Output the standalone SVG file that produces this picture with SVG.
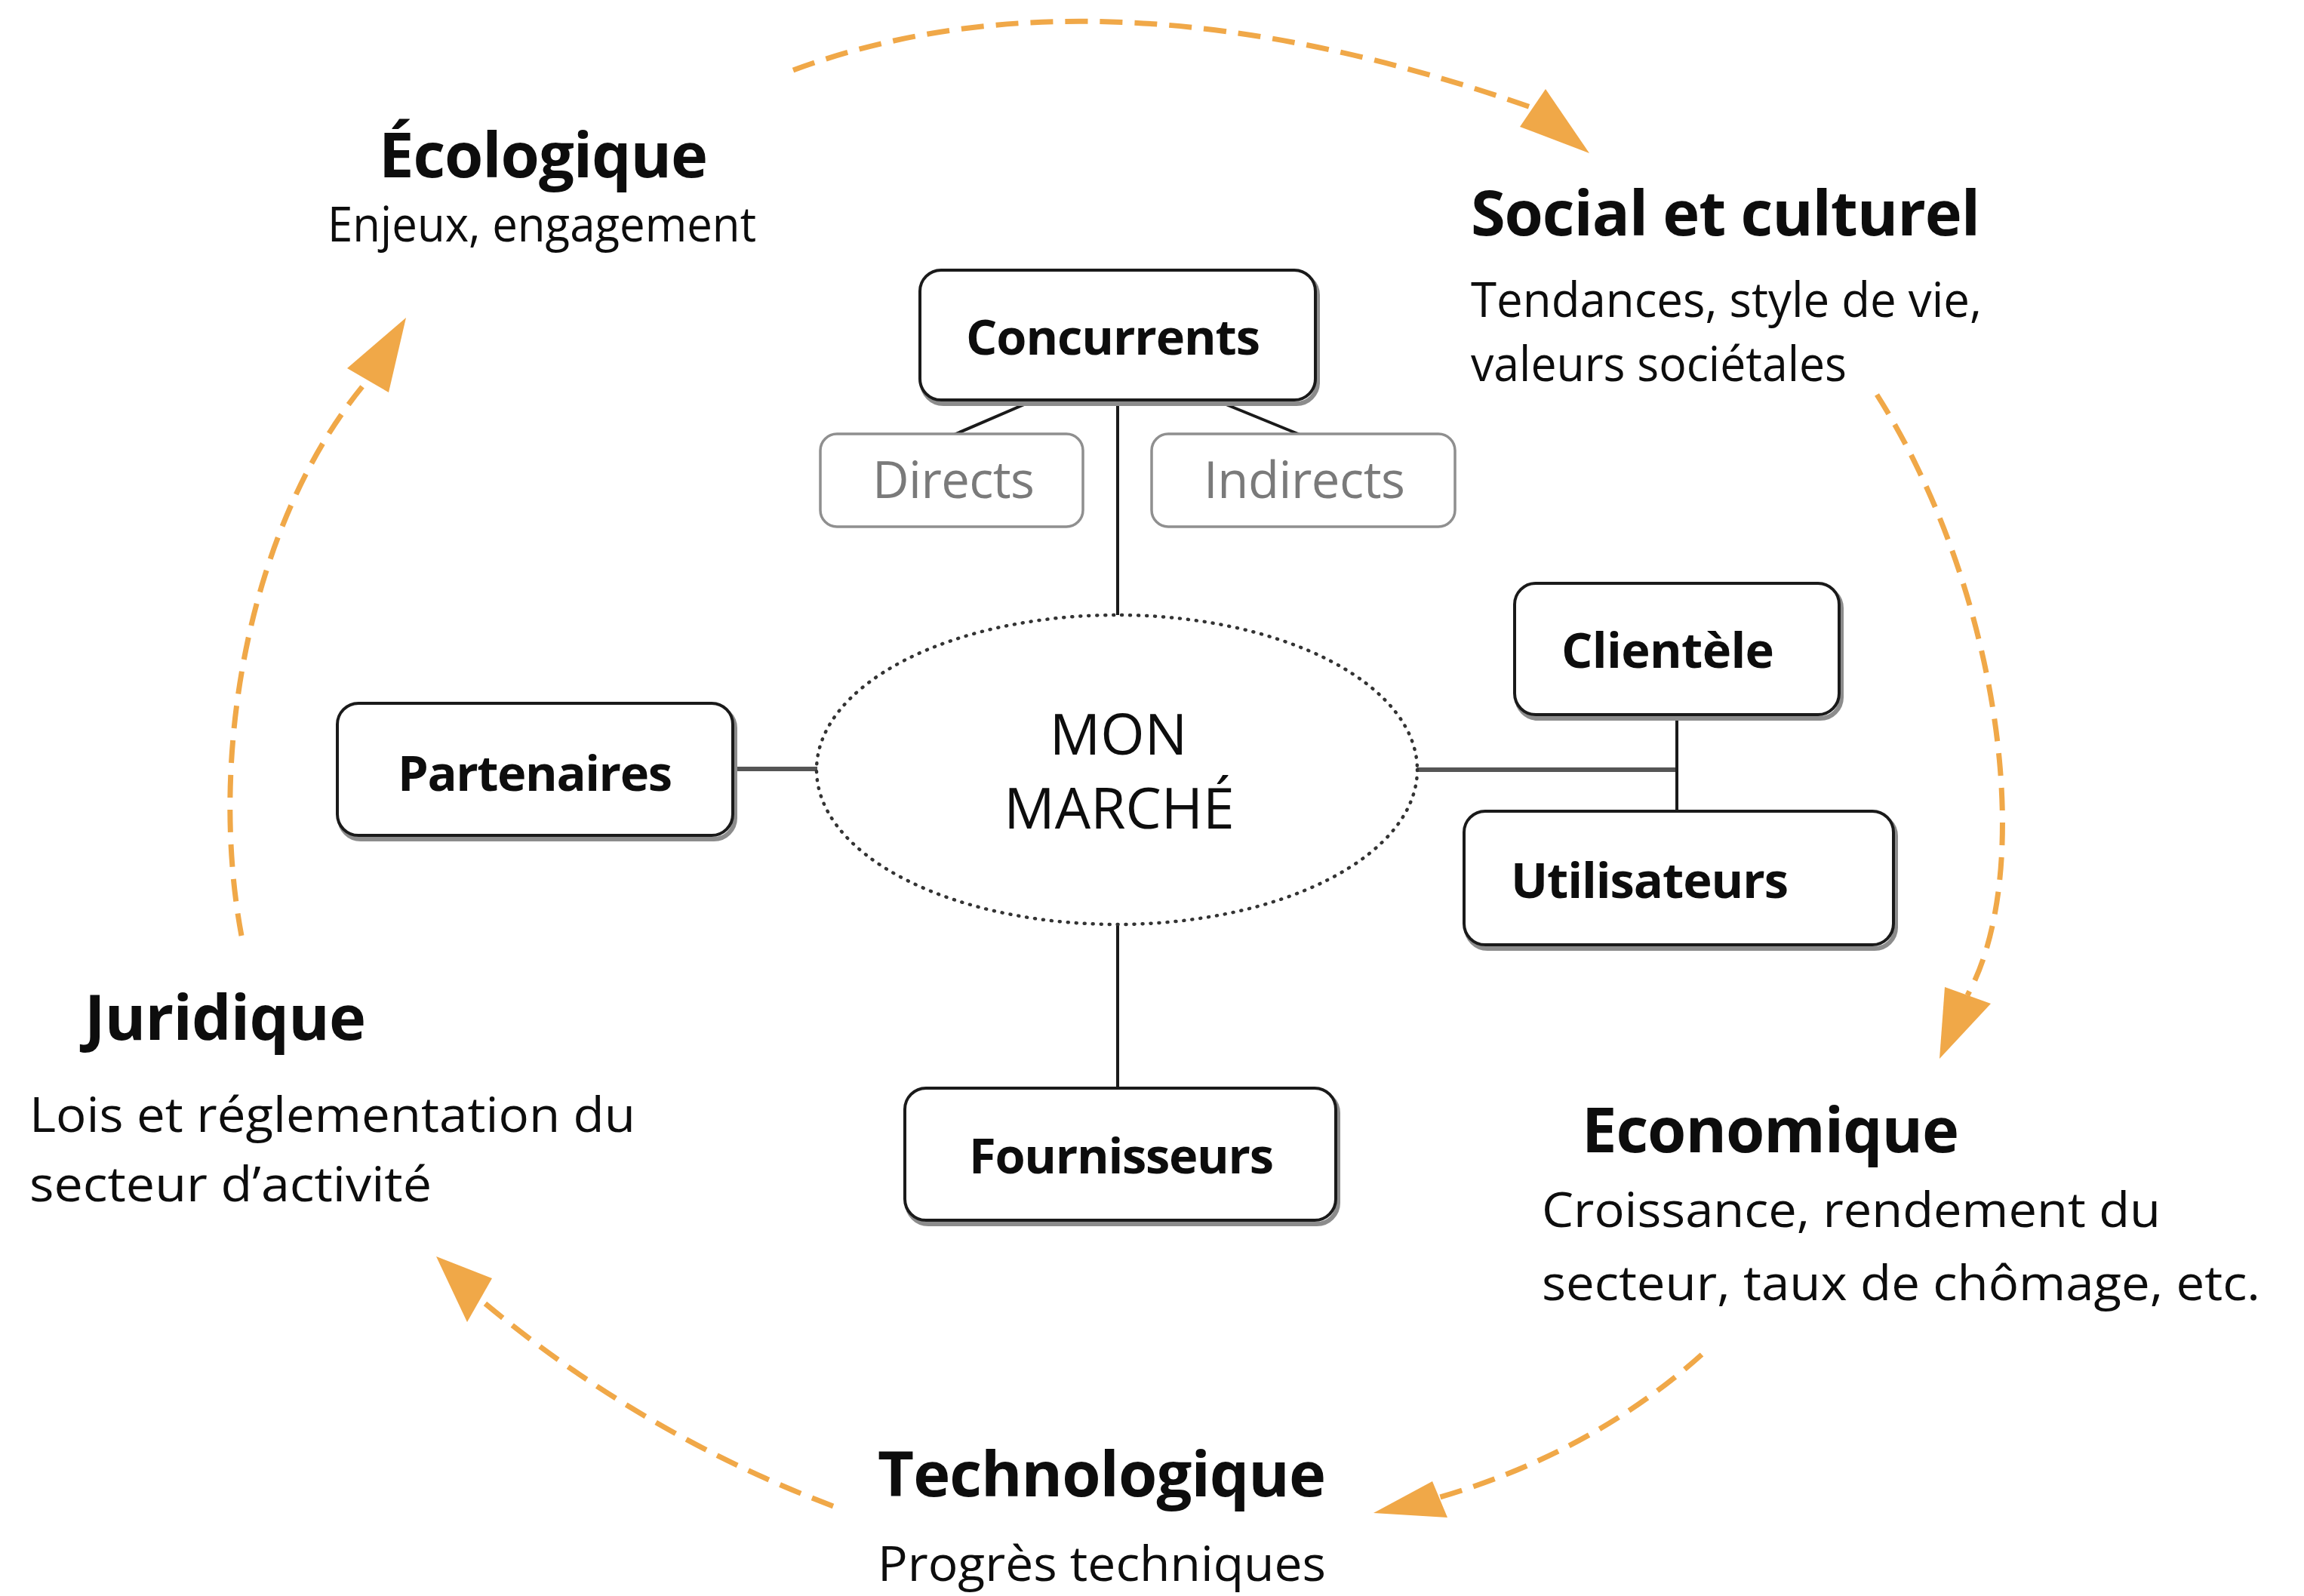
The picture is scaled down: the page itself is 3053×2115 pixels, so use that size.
<svg xmlns="http://www.w3.org/2000/svg" width="3053" height="2115" viewBox="0 0 3053 2115">
<style>
.bg{fill:#ffffff}
.title{font-family:"Open Sans","Noto Sans",sans-serif;font-weight:700;font-size:83px;fill:#0d0d0d}
.sub{font-family:"Open Sans","Noto Sans",sans-serif;font-weight:400;font-size:64px;fill:#0d0d0d}
.lbl{font-family:"Open Sans","Noto Sans",sans-serif;font-weight:700;font-size:65px;fill:#0d0d0d}
.sublbl{font-family:"Open Sans","Noto Sans",sans-serif;font-weight:400;font-size:67px;fill:#7a7a7a}
.core{font-family:"Open Sans","Noto Sans",sans-serif;font-weight:400;font-size:75px;fill:#0d0d0d}
.box{fill:#ffffff;stroke:#1a1a1a;stroke-width:4}
.shadow{fill:none;stroke:#8c8c8c;stroke-width:6}
.gbox{fill:#ffffff;stroke:#8f8f8f;stroke-width:3.5}
.link{stroke:#1a1a1a;stroke-width:4;fill:none}
.glink{stroke:#555555;stroke-width:6;fill:none}
.arc{stroke:#F0A848;stroke-width:7;fill:none;stroke-dasharray:30 16}
.head{fill:#F0A848}
.dot{fill:none;stroke:#333333;stroke-width:4.5;stroke-dasharray:1 10;stroke-linecap:round}
</style>
<rect class="bg" x="0" y="0" width="3053" height="2115"/>

<g id="connectors">
  <path class="arc" d="M1051,93 Q1459,-58 2031,143"/>
  <polygon class="head" points="2048,118 2014,168 2106,203"/>
  <path class="arc" d="M2487,523 C2650,780 2700,1150 2607,1319"/>
  <polygon class="head" points="2577,1308 2638,1330 2570,1403"/>
  <path class="arc" d="M2255,1795 Q2110,1925 1905,1985"/>
  <polygon class="head" points="1898,1963 1918,2011 1820,2005"/>
  <path class="arc" d="M1104,1996 Q850,1900 640,1725"/>
  <polygon class="head" points="652,1694 619,1752 578,1665"/>
  <path class="arc" d="M320,1240 C275,1000 330,690 487,504"/>
  <polygon class="head" points="460,488 515,520 538,421"/>

  <line class="link" x1="1371" y1="530" x2="1262" y2="577"/>
  <line class="link" x1="1610" y1="530" x2="1725" y2="577"/>
  <line class="link" x1="1481" y1="530" x2="1481" y2="815"/>
  <line class="link" x1="1481" y1="1225" x2="1481" y2="1442"/>
  <line class="glink" x1="971" y1="1019" x2="1083" y2="1019"/>
  <line class="glink" x1="1878" y1="1020" x2="2222" y2="1020"/>
  <line class="link" x1="2222" y1="947" x2="2222" y2="1075"/>
</g>

<g id="ecologique">
  <text class="title" x="502" y="235" textLength="436">Écologique</text>
  <text class="sub" x="434" y="320" textLength="568" lengthAdjust="spacingAndGlyphs">Enjeux, engagement</text>
</g>
<g id="social">
  <text class="title" x="1949" y="312" textLength="675">Social et culturel</text>
  <text class="sub" x="1949" y="420" textLength="677" lengthAdjust="spacingAndGlyphs">Tendances, style de vie,</text>
  <text class="sub" x="1949" y="505" textLength="498" lengthAdjust="spacingAndGlyphs">valeurs sociétales</text>
</g>
<g id="juridique">
  <text class="title" x="112" y="1378" textLength="373">Juridique</text>
  <text class="sub" x="39" y="1500" textLength="803" lengthAdjust="spacingAndGlyphs">Lois et réglementation du</text>
  <text class="sub" x="39" y="1592" textLength="533" lengthAdjust="spacingAndGlyphs">secteur d’activité</text>
</g>
<g id="economique">
  <text class="title" x="2096" y="1527" textLength="500">Economique</text>
  <text class="sub" x="2043" y="1626" textLength="820" lengthAdjust="spacingAndGlyphs">Croissance, rendement du</text>
  <text class="sub" x="2043" y="1723" textLength="952" lengthAdjust="spacingAndGlyphs">secteur, taux de chômage, etc.</text>
</g>
<g id="technologique">
  <text class="title" x="1163" y="1983" textLength="594">Technologique</text>
  <text class="sub" x="1163" y="2095" textLength="594" lengthAdjust="spacingAndGlyphs">Progrès techniques</text>
</g>

<g id="concurrents">
  <rect class="shadow" x="1222" y="363" width="524" height="172" rx="28"/>
  <rect class="box" x="1219" y="358" width="524" height="172" rx="28"/>
  <text class="lbl" x="1280" y="470" textLength="390">Concurrents</text>
</g>
<g id="directs">
  <rect class="gbox" x="1087" y="575" width="348" height="123" rx="22"/>
  <text class="sublbl" x="1156" y="660" textLength="215">Directs</text>
</g>
<g id="indirects">
  <rect class="gbox" x="1526" y="575" width="402" height="123" rx="22"/>
  <text class="sublbl" x="1595" y="660" textLength="267">Indirects</text>
</g>
<g id="mon-marche">
  <ellipse class="dot" cx="1480" cy="1020" rx="398" ry="205"/>
  <text class="core" x="1482" y="1000" text-anchor="middle">MON</text>
  <text class="core" x="1483" y="1098" text-anchor="middle">MARCHÉ</text>
</g>
<g id="partenaires">
  <rect class="shadow" x="450" y="937" width="524" height="175" rx="28"/>
  <rect class="box" x="447" y="932" width="524" height="175" rx="28"/>
  <text class="lbl" x="527" y="1048" textLength="364">Partenaires</text>
</g>
<g id="clientele">
  <rect class="shadow" x="2010" y="778" width="430" height="174" rx="28"/>
  <rect class="box" x="2007" y="773" width="430" height="174" rx="28"/>
  <text class="lbl" x="2069" y="885" textLength="282">Clientèle</text>
</g>
<g id="utilisateurs">
  <rect class="shadow" x="1943" y="1080" width="569" height="177" rx="28"/>
  <rect class="box" x="1940" y="1075" width="569" height="177" rx="28"/>
  <text class="lbl" x="2002" y="1190" textLength="368">Utilisateurs</text>
</g>
<g id="fournisseurs">
  <rect class="shadow" x="1202" y="1447" width="571" height="175" rx="28"/>
  <rect class="box" x="1199" y="1442" width="571" height="175" rx="28"/>
  <text class="lbl" x="1284" y="1555" textLength="404">Fournisseurs</text>
</g>
</svg>
